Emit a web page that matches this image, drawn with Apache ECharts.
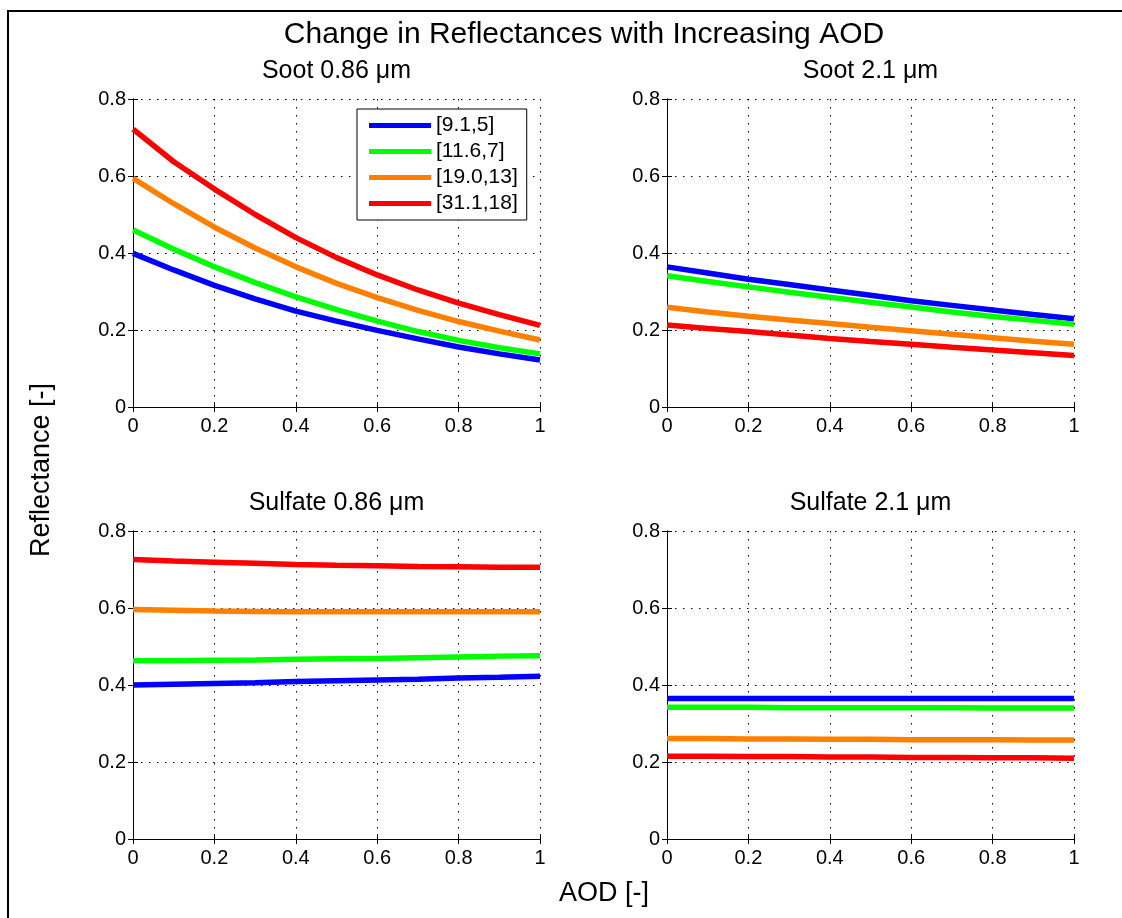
<!DOCTYPE html>
<html>
<head>
<meta charset="utf-8">
<script src="https://cdn.jsdelivr.net/npm/echarts@6/dist/echarts.min.js"></script>
<style>
html,body{margin:0;padding:0;background:#fff;}
#chart{width:1122px;height:918px;}
</style>
</head>
<body>
<div id="chart"></div>
<script>
// ---- data ----
const aod = [0, 0.1, 0.2, 0.3, 0.4, 0.5, 0.6, 0.7, 0.8, 0.9, 1.0];
const seriesNames = ['[9.1,5]', '[11.6,7]', '[19.0,13]', '[31.1,18]'];
const seriesColors = ['#0000ff', '#00ff00', '#ff8000', '#ff0000'];
const panelTitles = ['Soot 0.86 \u03bcm', 'Soot 2.1 \u03bcm', 'Sulfate 0.86 \u03bcm', 'Sulfate 2.1 \u03bcm'];
const xTicks = [0, 0.2, 0.4, 0.6, 0.8, 1];
const yTicks = [0, 0.2, 0.4, 0.6, 0.8];

// Soot 0.86 um
const soot086_blue   = [0.399, 0.356, 0.316, 0.281, 0.249, 0.223, 0.199, 0.177, 0.156, 0.138, 0.122];
const soot086_green  = [0.460, 0.410, 0.364, 0.323, 0.286, 0.253, 0.223, 0.196, 0.173, 0.154, 0.138];
const soot086_orange = [0.594, 0.528, 0.467, 0.413, 0.364, 0.321, 0.284, 0.251, 0.222, 0.197, 0.174];
const soot086_red    = [0.722, 0.637, 0.566, 0.500, 0.440, 0.388, 0.343, 0.304, 0.270, 0.240, 0.212];
// Soot 2.1 um
const soot21_blue   = [0.364, 0.348, 0.332, 0.318, 0.304, 0.290, 0.276, 0.264, 0.252, 0.240, 0.229];
const soot21_green  = [0.341, 0.326, 0.312, 0.298, 0.285, 0.272, 0.260, 0.247, 0.235, 0.225, 0.215];
const soot21_orange = [0.259, 0.247, 0.236, 0.226, 0.217, 0.207, 0.198, 0.189, 0.180, 0.171, 0.163];
const soot21_red    = [0.213, 0.204, 0.196, 0.187, 0.178, 0.170, 0.163, 0.155, 0.148, 0.141, 0.134];
// Sulfate 0.86 um
const sulf086_blue   = [0.400, 0.402, 0.404, 0.406, 0.409, 0.411, 0.413, 0.415, 0.418, 0.420, 0.423];
const sulf086_green  = [0.463, 0.463, 0.464, 0.465, 0.467, 0.468, 0.469, 0.471, 0.473, 0.475, 0.476];
const sulf086_orange = [0.596, 0.594, 0.592, 0.591, 0.590, 0.590, 0.590, 0.590, 0.590, 0.590, 0.590];
const sulf086_red    = [0.726, 0.722, 0.719, 0.716, 0.713, 0.711, 0.710, 0.708, 0.707, 0.706, 0.706];
// Sulfate 2.1 um
const sulf21_blue   = [0.365, 0.365, 0.365, 0.365, 0.365, 0.365, 0.365, 0.365, 0.365, 0.365, 0.365];
const sulf21_green  = [0.342, 0.342, 0.342, 0.341, 0.341, 0.341, 0.341, 0.341, 0.340, 0.340, 0.340];
const sulf21_orange = [0.261, 0.261, 0.260, 0.260, 0.259, 0.259, 0.258, 0.258, 0.258, 0.257, 0.257];
const sulf21_red    = [0.215, 0.215, 0.214, 0.214, 0.213, 0.213, 0.212, 0.212, 0.211, 0.211, 0.210];

const panels = [
  [soot086_blue, soot086_green, soot086_orange, soot086_red],
  [soot21_blue, soot21_green, soot21_orange, soot21_red],
  [sulf086_blue, sulf086_green, sulf086_orange, sulf086_red],
  [sulf21_blue, sulf21_green, sulf21_orange, sulf21_red]
];

// ---- layout ----
const FONT = '"Liberation Sans", Arial, Helvetica, sans-serif';
const gridPos = [
  {left: 133, top: 99, width: 407, height: 308},
  {left: 667, top: 99, width: 407, height: 308},
  {left: 133, top: 531, width: 407, height: 308},
  {left: 667, top: 531, width: 407, height: 308}
];

const grids = [], xAxes = [], yAxes = [], series = [], graphics = [];
const lineAxis = {show: true, lineStyle: {color: '#000', width: 1}};
const tickIn = {show: true, inside: true, length: 5, lineStyle: {color: '#000', width: 1}};
const dotted = {show: true, lineStyle: {color: '#000', width: 1, type: [1.5, 6.5]}};

gridPos.forEach((g, i) => {
  grids.push(Object.assign({containLabel: false, show: false}, g));
  xAxes.push({
    type: 'value', gridIndex: i, position: 'bottom', min: xTicks[0], max: xTicks[xTicks.length - 1],
    interval: xTicks[1] - xTicks[0],
    axisLine: lineAxis, axisTick: tickIn, splitLine: dotted,
    axisLabel: {color: '#000', fontSize: 20, fontFamily: FONT, margin: 9,
      formatter: v => String(+v.toFixed(1))}
  });
  xAxes.push({
    type: 'value', gridIndex: i, position: 'top', min: xTicks[0], max: xTicks[xTicks.length - 1],
    interval: xTicks[1] - xTicks[0],
    axisLine: lineAxis, axisTick: tickIn, splitLine: {show: false}, axisLabel: {show: false}
  });
  yAxes.push({
    type: 'value', gridIndex: i, position: 'left', min: yTicks[0], max: yTicks[yTicks.length - 1],
    interval: yTicks[1] - yTicks[0],
    axisLine: lineAxis, axisTick: tickIn, splitLine: dotted,
    axisLabel: {color: '#000', fontSize: 20, fontFamily: FONT, margin: 7,
      formatter: v => String(+v.toFixed(1))}
  });
  yAxes.push({
    type: 'value', gridIndex: i, position: 'right', min: yTicks[0], max: yTicks[yTicks.length - 1],
    interval: yTicks[1] - yTicks[0],
    axisLine: lineAxis, axisTick: tickIn, splitLine: {show: false}, axisLabel: {show: false}
  });
  panels[i].forEach((vals, k) => {
    series.push({
      type: 'line', name: seriesNames[k], xAxisIndex: 2 * i, yAxisIndex: 2 * i,
      data: aod.map((x, j) => [x, vals[j]]),
      showSymbol: false, symbol: 'none', smooth: false, animation: false,
      color: seriesColors[k],
      lineStyle: {color: seriesColors[k], width: 5.5}
    });
  });
  graphics.push({
    type: 'text', x: g.left + g.width / 2, y: g.top - 28,
    style: {text: panelTitles[i], fill: '#000', font: '25px ' + FONT, align: 'center', verticalAlign: 'middle'}
  });
});

graphics.push({
  type: 'rect', z: -10, shape: {x: 8, y: 11, width: 1300, height: 1100},
  style: {fill: 'none', stroke: '#000', lineWidth: 2}
});
graphics.push({
  type: 'text', x: 584, y: 35,
  style: {text: 'Change in Reflectances with Increasing AOD', fill: '#000', font: '30px ' + FONT, align: 'center', verticalAlign: 'middle'}
});
graphics.push({
  type: 'text', x: 604, y: 894,
  style: {text: 'AOD [-]', fill: '#000', font: '27px ' + FONT, align: 'center', verticalAlign: 'middle'}
});
graphics.push({
  type: 'text', x: 42, y: 470, rotation: Math.PI / 2,
  style: {text: 'Reflectance [-]', fill: '#000', font: '27px ' + FONT, align: 'center', verticalAlign: 'middle'}
});

const option = {
  backgroundColor: '#fff',
  animation: false,
  grid: grids,
  xAxis: xAxes,
  yAxis: yAxes,
  legend: {
    data: seriesNames,
    orient: 'vertical', left: 357, top: 109,
    icon: 'rect', itemWidth: 62, itemHeight: 5, itemGap: 5, itemTextGap: 11,
    padding: [6, 9, 6, 12],
    backgroundColor: '#fff', borderColor: '#000', borderWidth: 1,
    textStyle: {color: '#000', fontSize: 21, fontFamily: FONT, lineHeight: 21},
    selectedMode: false
  },
  graphic: graphics,
  series: series
};

const chart = echarts.init(document.getElementById('chart'), null, {renderer: 'canvas'});
chart.setOption(option);
</script>
</body>
</html>
